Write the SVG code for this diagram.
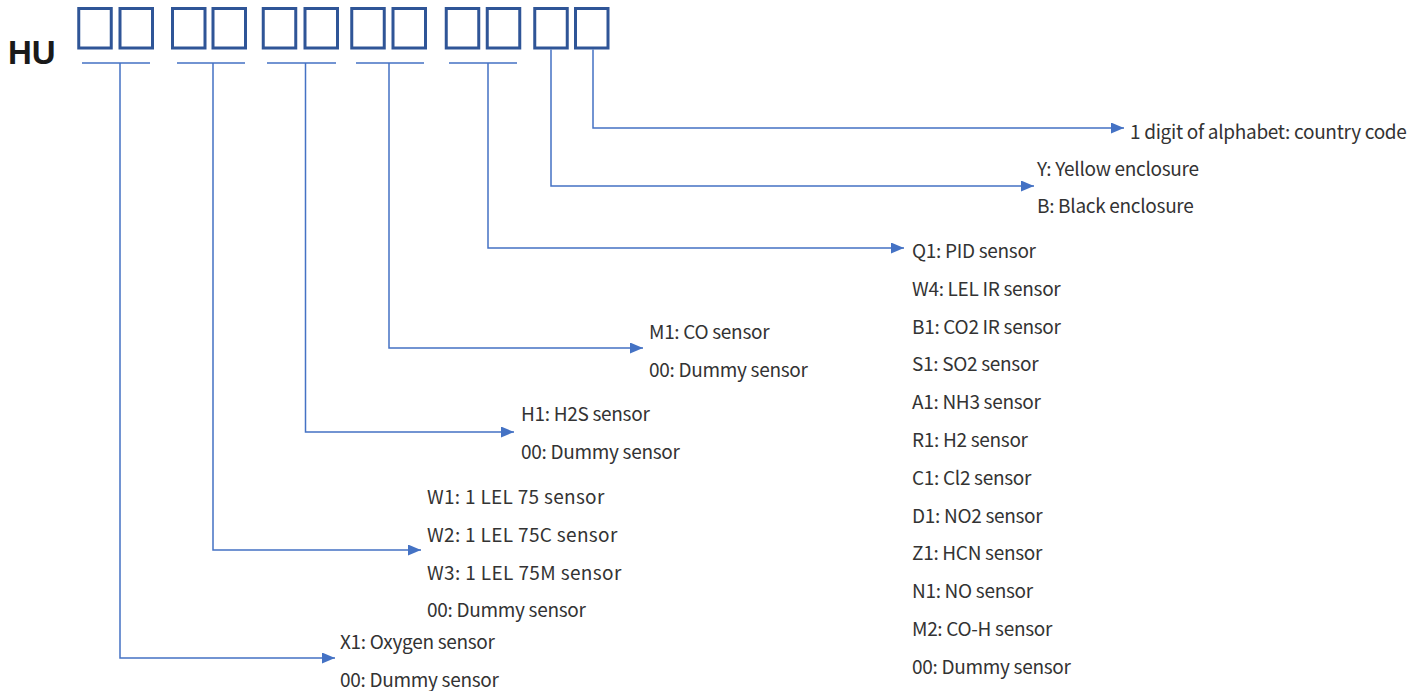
<svg xmlns="http://www.w3.org/2000/svg" width="1421" height="691" viewBox="0 0 1421 691">
<defs>
<style>
.box{fill:none;stroke:#2F5597;stroke-width:3}
.ln{fill:none;stroke:#4472C4;stroke-width:1.5}
.t{font-family:"Noto Sans CJK JP","Noto Sans",sans-serif;font-size:19px;letter-spacing:-0.3px;fill:#333333}
.hu{font-family:"Liberation Sans",Arial,sans-serif;font-size:33px;font-weight:bold;fill:#1a1a1a}
</style>
<marker id="ah" viewBox="0 0 13 11" refX="13" refY="5.5" markerWidth="13" markerHeight="11" markerUnits="userSpaceOnUse" orient="auto">
<path d="M0,0 L13,5.5 L0,11 Z" fill="#4472C4"/>
</marker>
</defs>
<rect width="1421" height="691" fill="#ffffff"/>
<g id="code">
<text class="hu" x="8" y="64">HU</text>
<rect class="box" x="78.75" y="8.5" width="32.5" height="39.5"/>
<rect class="box" x="120" y="8.5" width="32.5" height="39.5"/>
<rect class="box" x="172.5" y="8.5" width="32.5" height="39.5"/>
<rect class="box" x="213" y="8.5" width="32.5" height="39.5"/>
<rect class="box" x="263.25" y="8.5" width="32.5" height="39.5"/>
<rect class="box" x="305" y="8.5" width="32.5" height="39.5"/>
<rect class="box" x="351.75" y="8.5" width="32.5" height="39.5"/>
<rect class="box" x="393" y="8.5" width="32.5" height="39.5"/>
<rect class="box" x="446.25" y="8.5" width="32.5" height="39.5"/>
<rect class="box" x="487.25" y="8.5" width="32.5" height="39.5"/>
<rect class="box" x="534.75" y="8.5" width="32.5" height="39.5"/>
<rect class="box" x="575.5" y="8.5" width="32.5" height="39.5"/>
</g>
<g id="connectors">
<path class="ln" d="M82,63 H150 M177,63 H245 M267,63 H336 M356,63 H424 M449,63 H517"/>
<path class="ln" marker-end="url(#ah)" d="M120,63 V658 H335"/>
<path class="ln" marker-end="url(#ah)" d="M213,63 V550 H421"/>
<path class="ln" marker-end="url(#ah)" d="M305.5,63 V432 H514"/>
<path class="ln" marker-end="url(#ah)" d="M389,63 V348 H643"/>
<path class="ln" marker-end="url(#ah)" d="M488,63 V248 H904"/>
<path class="ln" marker-end="url(#ah)" d="M551,49.5 V186 H1034"/>
<path class="ln" marker-end="url(#ah)" d="M593,49.5 V128 H1124"/>
</g>
<g id="country">
<text class="t" x="1130" y="139">1 digit of alphabet: country code</text>
</g>
<g id="enclosure">
<text class="t" x="1037" y="176">Y: Yellow enclosure</text>
<text class="t" x="1037" y="213">B: Black enclosure</text>
</g>
<g id="sensor5">
<text class="t" x="912" y="258">Q1: PID sensor</text>
<text class="t" x="912" y="296">W4: LEL IR sensor</text>
<text class="t" x="912" y="334">B1: CO2 IR sensor</text>
<text class="t" x="912" y="371">S1: SO2 sensor</text>
<text class="t" x="912" y="409">A1: NH3 sensor</text>
<text class="t" x="912" y="447">R1: H2 sensor</text>
<text class="t" x="912" y="485">C1: Cl2 sensor</text>
<text class="t" x="912" y="523">D1: NO2 sensor</text>
<text class="t" x="912" y="560">Z1: HCN sensor</text>
<text class="t" x="912" y="598">N1: NO sensor</text>
<text class="t" x="912" y="636">M2: CO-H sensor</text>
<text class="t" x="912" y="674">00: Dummy sensor</text>
</g>
<g id="sensor4">
<text class="t" x="649" y="339">M1: CO sensor</text>
<text class="t" x="649" y="377">00: Dummy sensor</text>
</g>
<g id="sensor3">
<text class="t" x="521" y="421">H1: H2S sensor</text>
<text class="t" x="521" y="459">00: Dummy sensor</text>
</g>
<g id="sensor2">
<text class="t" x="427" y="504" textLength="177">W1: 1 LEL 75 sensor</text>
<text class="t" x="427" y="542" textLength="190">W2: 1 LEL 75C sensor</text>
<text class="t" x="427" y="580" textLength="194">W3: 1 LEL 75M sensor</text>
<text class="t" x="427" y="617">00: Dummy sensor</text>
</g>
<g id="sensor1">
<text class="t" x="340" y="649">X1: Oxygen sensor</text>
<text class="t" x="340" y="687">00: Dummy sensor</text>
</g>
</svg>
